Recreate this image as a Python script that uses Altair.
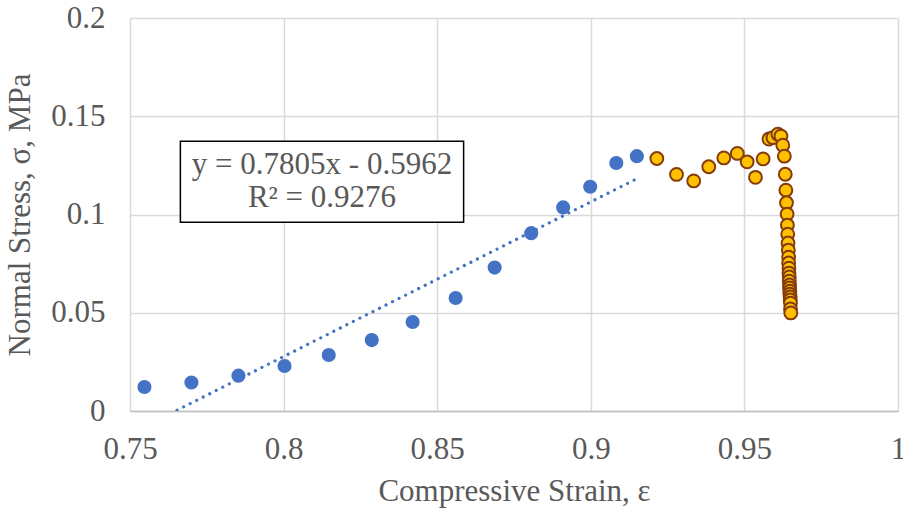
import altair as alt
import pandas as pd

# Blue series (fitted region)
blue_strain = [0.7547, 0.7700, 0.7853, 0.8003, 0.8147, 0.8287, 0.8420, 0.8560,
               0.8687, 0.8806, 0.8910, 0.8998, 0.9083, 0.9150]
blue_stress = [0.0122, 0.0145, 0.0180, 0.0229, 0.0285, 0.0361, 0.0453, 0.0575,
               0.0730, 0.0905, 0.1036, 0.1141, 0.1262, 0.1297]

# Orange series (post-peak region)
orange_strain = [0.9215, 0.9279, 0.9335, 0.9384, 0.9433, 0.9477, 0.9509, 0.9536,
                 0.9561, 0.9580, 0.9593, 0.9609, 0.9619, 0.9625, 0.9630, 0.9633,
                 0.9635, 0.9637, 0.9639, 0.9640, 0.9641, 0.9642, 0.9643, 0.9644,
                 0.9644, 0.9645, 0.9645, 0.9646, 0.9646, 0.9647, 0.9647, 0.9648,
                 0.9648, 0.9649, 0.9649, 0.9650, 0.9650, 0.9651]
orange_stress = [0.1285, 0.1204, 0.1171, 0.1243, 0.1288, 0.1311, 0.1268, 0.1189,
                 0.1283, 0.1384, 0.1391, 0.1409, 0.1399, 0.1353, 0.1297, 0.1205,
                 0.1124, 0.1060, 0.1002, 0.0946, 0.0900, 0.0855, 0.0819, 0.0783,
                 0.0753, 0.0727, 0.0702, 0.0682, 0.0661, 0.0641, 0.0626, 0.0610,
                 0.0595, 0.0580, 0.0565, 0.0549, 0.0519, 0.0499]

x_ticks = [0.75, 0.8, 0.85, 0.9, 0.95, 1.0]
y_ticks = [0, 0.05, 0.1, 0.15, 0.2]

eq_lines = ["y = 0.7805x - 0.5962", "R² = 0.9276"]
# annotation anchor (data coordinates)
box_x = [0.7664]
box_x2 = [0.8586]
box_y = [0.1373]
box_y2 = [0.0961]
label_x = [0.8125, 0.8125]
label_y = [0.1250, 0.1085]

FONT = "Liberation Serif"
GREY = "#595959"

blue_df = pd.DataFrame({"strain": blue_strain, "stress": blue_stress})
orange_df = pd.DataFrame({"strain": orange_strain, "stress": orange_stress})
box_df = pd.DataFrame({"x": box_x, "x2": box_x2, "y": box_y, "y2": box_y2})
text_df = pd.DataFrame({"x": label_x, "y": label_y, "t": eq_lines})

xscale = alt.Scale(domain=[0.75, 1.0], nice=False, zero=False)
yscale = alt.Scale(domain=[0, 0.2], nice=False)

xaxis = alt.Axis(values=x_ticks, format="~g", title="Compressive Strain, ε",
                 grid=True, labelFlush=False, labelOverlap=False)
yaxis = alt.Axis(values=y_ticks, format="~g", title="Normal Stress, σ, MPa",
                 grid=True, labelOverlap=False)

X = alt.X("strain:Q", scale=xscale, axis=xaxis)
Y = alt.Y("stress:Q", scale=yscale, axis=yaxis)

trend = alt.Chart(blue_df).transform_regression(
    "strain", "stress", extent=[min(blue_strain), max(blue_strain)]
).mark_line(color="#4472C4", strokeWidth=3.2, strokeCap="round",
            strokeDash=[0.01, 7.3], clip=True).encode(x=X, y=Y)

blue = alt.Chart(blue_df).mark_circle(color="#4472C4", opacity=1, size=200).encode(x=X, y=Y)

orange = alt.Chart(orange_df).mark_point(
    shape="circle", filled=True, fill="#FFC000", stroke="#843C0C",
    strokeWidth=2, opacity=1, size=165
).encode(x=X, y=Y)

box = alt.Chart(box_df).mark_rect(fill="white", stroke="black", strokeWidth=1.5).encode(
    x=alt.X("x:Q", scale=xscale), x2="x2:Q",
    y=alt.Y("y:Q", scale=yscale), y2="y2:Q")

text = alt.Chart(text_df).mark_text(font=FONT, fontSize=31, color=GREY,
                                    align="center", baseline="middle").encode(
    x=alt.X("x:Q", scale=xscale), y=alt.Y("y:Q", scale=yscale), text="t:N")

chart = alt.layer(box, trend, blue, orange, text).properties(
    width=768, height=393,
    autosize=alt.AutoSizeParams(type="none"),
    padding={"left": 130, "top": 18, "right": 5, "bottom": 107},
    background="white",
).configure_view(stroke=None).configure_axis(
    labelFont=FONT, labelFontSize=31, labelColor=GREY,
    titleFont=FONT, titleFontSize=31, titleColor=GREY, titleFontWeight="normal",
    gridColor="#D9D9D9", gridWidth=1.5, ticks=False,
).configure_axisX(
    domain=True, domainColor="#BFBFBF", domainWidth=1.5, labelPadding=23, titlePadding=12
).configure_axisY(
    domain=False, labelPadding=25, titlePadding=14
)

chart.save("out.html", embed_options={"renderer": "svg", "actions": False})
